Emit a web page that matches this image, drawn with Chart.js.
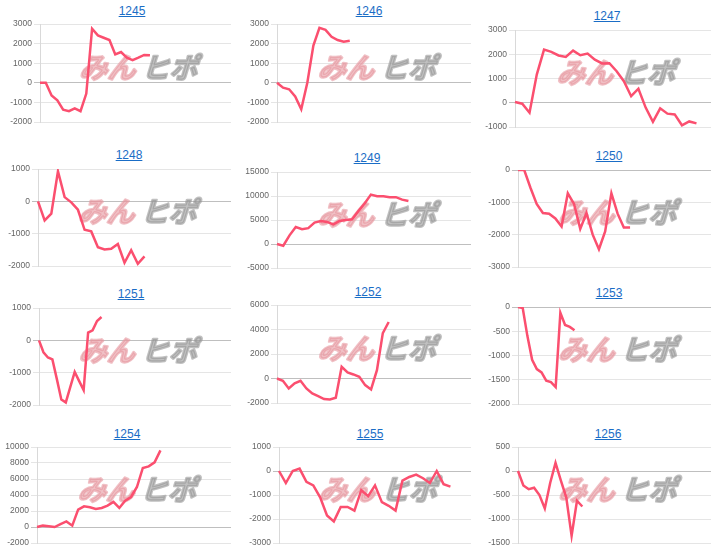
<!DOCTYPE html>
<html>
<head>
<meta charset="utf-8">
<script src="https://cdn.jsdelivr.net/npm/chart.js@4.4.1/dist/chart.umd.min.js"></script>
<style>
  body { margin: 0; background: #fff; width: 720px; height: 558px; position: relative; overflow: hidden; font-family: "Liberation Sans", Arial, sans-serif; }
  a.ttl { position: absolute; font-size: 12px; color: #1a6dc6; text-decoration: underline; transform: translate(-50%, -50%); white-space: nowrap; }
  canvas { position: absolute; }
</style>
</head>
<body>
<script>
// machine numbers (panel titles)
const machines = ['1245', '1246', '1247', '1248', '1249', '1250', '1251', '1252', '1253', '1254', '1255', '1256'];

// number of x slots on each panel's axis
const slots = [34, 33, 28, 30, 32, 32, 44, 34, 42, 34, 29, 37];

// y tick labels per panel
const yTicks = [
  [3000, 2000, 1000, 0, -1000, -2000],
  [3000, 2000, 1000, 0, -1000, -2000],
  [3000, 2000, 1000, 0, -1000],
  [1000, 0, -1000, -2000],
  [15000, 10000, 5000, 0, -5000],
  [0, -1000, -2000, -3000],
  [1000, 0, -1000, -2000],
  [6000, 4000, 2000, 0, -2000],
  [0, -500, -1000, -1500, -2000],
  [10000, 8000, 6000, 4000, 2000, 0, -2000],
  [1000, 0, -1000, -2000, -3000],
  [500, 0, -500, -1000, -1500],
];

// series values
const s1245 = [0, 0, -650, -890, -1370, -1450, -1300, -1450, -550, 2760, 2420, 2300, 2180, 1450, 1570, 1280, 1160, 1280, 1420, 1400];
const s1246 = [0, -250, -330, -700, -1350, 0, 1900, 2800, 2700, 2350, 2180, 2100, 2150];
const s1247 = [30, -40, -410, 1160, 2190, 2100, 1950, 1890, 2150, 1960, 2030, 1780, 1620, 1630, 1300, 890, 270, 580, -200, -790, -230, -450, -480, -930, -770, -850];
const s1248 = [0, -590, -380, 930, 130, -30, -260, -880, -930, -1420, -1490, -1470, -1320, -1900, -1510, -1930, -1700];
const s1249 = [0, -350, 1800, 3550, 3100, 3300, 4450, 4800, 4600, 4100, 4800, 5000, 5150, 6850, 8450, 10300, 9950, 9950, 9750, 9750, 9250, 8950];
const s1250 = [0, 0, -550, -1050, -1330, -1350, -1500, -1750, -720, -1050, -1820, -1330, -2000, -2450, -1900, -720, -1350, -1780, -1780];
const s1251 = [0, -370, -530, -590, -1200, -1830, -1920, -1450, -980, -1260, -1540, 240, 310, 600, 720];
const s1252 = [0, -190, -810, -400, -190, -810, -1220, -1430, -1680, -1710, -1570, 950, 490, 330, 140, -540, -890, 680, 3710, 4610];
const s1253 = [0, -20, -600, -1090, -1280, -1350, -1520, -1550, -1650, -120, -370, -410, -480];
const s1254 = [0, 170, 80, 0, 370, 700, 170, 2170, 2580, 2460, 2250, 2380, 2670, 3130, 2380, 3290, 3750, 5000, 7380, 7580, 8080, 9580];
const s1255 = [0, -500, 0, 100, -450, -600, -1100, -1850, -2100, -1500, -1500, -1650, -800, -1050, -600, -1300, -1450, -1650, -400, -250, -150, -300, -500, 0, -550, -650];
const s1256 = [0, -300, -380, -350, -500, -780, -250, 170, -200, -550, -1350, -620, -740];

const series = [s1245, s1246, s1247, s1248, s1249, s1250, s1251, s1252, s1253, s1254, s1255, s1256];

// layout (px in the page)
const titleX = [132, 129, 127, 129, 127, 129, 131, 128, 129, 127, 130, 128];
const titleY = [11, 11, 16, 155, 158, 156, 294, 292, 293, 434, 434, 434];
const plotTop = [24, 24, 30, 169, 172, 170, 308, 305, 307, 447, 447, 447];
const plotBottom = [122, 122, 127, 266, 268, 267, 405, 403, 404, 543, 543, 543];
const axisX = [40, 37, 35, 38, 37, 38, 39, 37, 38, 37, 39, 38];
const plotRight = 231;
const pad = 8;

// watermark drawn behind the line
const watermark = {
  id: 'watermark',
  beforeDatasetsDraw(chart) {
    const { left, right, top, bottom } = chart.chartArea;
    const ctx = chart.ctx;
    ctx.save();
    ctx.translate((left + right) / 2 + 5, (top + bottom) / 2 - 6);
    ctx.transform(1, 0, -0.3, 1, 0, 0);
    ctx.font = 'bold 28px "Noto Sans CJK JP"';
    ctx.textBaseline = 'middle';
    ctx.lineJoin = 'round';
    ctx.lineWidth = 2.5;
    ctx.textAlign = 'right';
    ctx.fillStyle = ctx.strokeStyle = 'rgba(230,150,158,0.6)';
    ctx.strokeText('みん', -2, 0);
    ctx.fillText('みん', -2, 0);
    ctx.textAlign = 'left';
    ctx.fillStyle = ctx.strokeStyle = 'rgba(150,150,150,0.6)';
    ctx.strokeText('ヒポ', 4, 0);
    ctx.fillText('ヒポ', 4, 0);
    ctx.restore();
  }
};

machines.forEach((name, i) => {
  const left = (i % 3) * 240;

  const a = document.createElement('a');
  a.className = 'ttl';
  a.href = '#';
  a.textContent = name;
  a.style.left = (left + titleX[i]) + 'px';
  a.style.top = titleY[i] + 'px';
  document.body.appendChild(a);

  const cv = document.createElement('canvas');
  const h = plotBottom[i] - plotTop[i] + pad * 2;
  cv.width = 240;
  cv.height = h;
  cv.style.left = left + 'px';
  cv.style.top = (plotTop[i] - pad) + 'px';
  cv.style.width = '240px';
  cv.style.height = h + 'px';
  document.body.appendChild(cv);

  const ticks = yTicks[i];
  const labels = Array.from({ length: slots[i] }, (_, k) => k + 1);

  new Chart(cv, {
    type: 'line',
    data: {
      labels,
      datasets: [{
        data: series[i],
        borderColor: '#fb4f6f',
        borderWidth: 2.5,
        pointRadius: 0,
        tension: 0,
        fill: false,
      }],
    },
    options: {
      responsive: false,
      animation: false,
      devicePixelRatio: 1,
      layout: { padding: { top: pad, bottom: pad, left: 0, right: 240 - plotRight } },
      plugins: { legend: { display: false }, tooltip: { enabled: false } },
      scales: {
        x: { display: false },
        y: {
          min: ticks[ticks.length - 1],
          max: ticks[0],
          afterFit: s => { s.width = axisX[i]; },
          ticks: {
            stepSize: ticks[0] - ticks[1],
            color: '#666',
            padding: 2,
            font: { family: '"Liberation Sans", Arial', size: 8.5 },
            callback: v => String(v),
          },
          grid: {
            tickLength: 6,
            color: c => (c.tick && c.tick.value === 0 ? 'rgba(0,0,0,0.25)' : 'rgba(0,0,0,0.1)'),
          },
          border: { display: true, color: 'rgba(0,0,0,0.15)' },
        },
      },
    },
    plugins: [watermark],
  });
});
</script>
</body>
</html>
